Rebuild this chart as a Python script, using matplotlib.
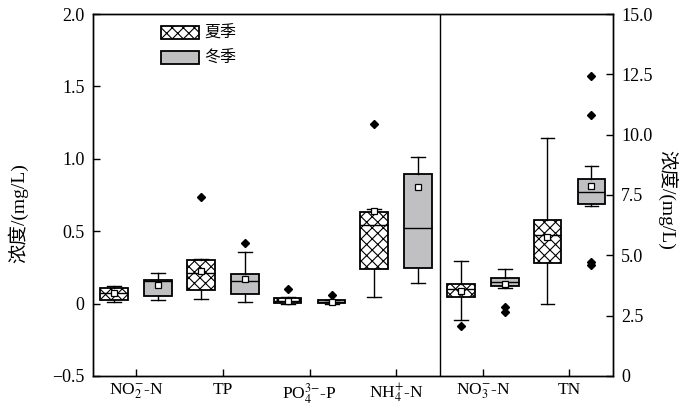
import matplotlib
matplotlib.use('Agg')
import matplotlib.pyplot as plt
from matplotlib.patches import Patch

plt.rcParams['font.family'] = ['Liberation Serif', 'Noto Sans CJK SC']
plt.rcParams['mathtext.fontset'] = 'stix'
plt.rcParams['hatch.linewidth'] = 0.8
plt.rcParams['axes.unicode_minus'] = True

# ---------------- data ----------------
categories = [r'NO$_2^{-}$-N', 'TP', r'PO$_4^{3{-}}$-P', r'NH$_4^{+}$-N', r'NO$_3^{-}$-N', 'TN']
# first four categories on left axis (mg/L), last two on right axis (mg/L)
summer_whislo = [0.011, 0.034, 0.000, 0.048, 2.333, 2.996]
summer_q1     = [0.022, 0.096, 0.001, 0.241, 3.261, 4.695]
summer_med    = [0.070, 0.213, 0.018, 0.541, 3.605, 5.840]
summer_q3     = [0.106, 0.299, 0.039, 0.633, 3.825, 6.452]
summer_whishi = [0.124, 0.310, 0.043, 0.653, 4.765, 9.874]
summer_mean   = [0.072, 0.227, 0.020, 0.640, 3.520, 5.760]
summer_fliers = [[], [0.734], [0.101], [1.240], [2.072], []]

winter_whislo = [0.023, 0.011, 0.000, 0.140, 3.630, 7.040]
winter_q1     = [0.052, 0.064, 0.001, 0.244, 3.729, 7.127]
winter_med    = [0.155, 0.158, 0.013, 0.524, 3.910, 7.612]
winter_q3     = [0.160, 0.204, 0.023, 0.895, 4.074, 8.163]
winter_whishi = [0.213, 0.356, 0.027, 1.010, 4.421, 8.714]
winter_mean   = [0.129, 0.170, 0.012, 0.805, 3.812, 7.861]
winter_fliers = [[], [0.416], [0.059], [], [2.847, 2.652], [12.43, 10.80, 4.736, 4.60]]

season_labels = ['夏季', '冬季']
left_ticks = [-0.5, 0, 0.5, 1.0, 1.5, 2.0]
left_ticklabels = ['\u22120.5', '0', '0.5', '1.0', '1.5', '2.0']
right_ticks = [0, 2.5, 5.0, 7.5, 10.0, 12.5, 15.0]
right_ticklabels = ['0', '2.5', '5.0', '7.5', '10.0', '12.5', '15.0']
ylabel = '浓度/(mg/L)'


def make_stats(idx, wl, q1, med, q3, wh, mean, fl):
    return [dict(whislo=wl[i], q1=q1[i], med=med[i], q3=q3[i], whishi=wh[i],
                 mean=mean[i], fliers=fl[i]) for i in idx]

summer_stats = make_stats(range(6), summer_whislo, summer_q1, summer_med, summer_q3,
                          summer_whishi, summer_mean, summer_fliers)
winter_stats = make_stats(range(6), winter_whislo, winter_q1, winter_med, winter_q3,
                          winter_whishi, winter_mean, winter_fliers)

gray = '#c0c0c2'
fig = plt.figure(figsize=(6.79, 4.07), dpi=100)
ax = fig.add_axes([0.137, 0.0762, 0.7655, 0.8894])
ax2 = ax.twinx()

offset = 0.254
width = 0.32
capw = 0.16

common = dict(patch_artist=True, showmeans=True, widths=width, capwidths=capw,
              manage_ticks=False,
              medianprops=dict(color='black', linewidth=1.0),
              whiskerprops=dict(color='black', linewidth=1.0),
              capprops=dict(color='black', linewidth=1.0),
              flierprops=dict(marker='D', markerfacecolor='black', markeredgecolor='black',
                              markersize=4),
              meanprops=dict(marker='s', markerfacecolor='white', markeredgecolor='black',
                             markersize=4, markeredgewidth=0.9))

summer_box = dict(facecolor='white', edgecolor='black', linewidth=1.3, hatch='xxx')
winter_box = dict(facecolor=gray, edgecolor='black', linewidth=1.3)

left_idx = [0, 1, 2, 3]
right_idx = [4, 5]

ax.bxp([summer_stats[i] for i in left_idx], positions=[i - offset for i in left_idx],
       boxprops=summer_box, **common)
ax.bxp([winter_stats[i] for i in left_idx], positions=[i + offset for i in left_idx],
       boxprops=winter_box, **common)
ax2.bxp([summer_stats[i] for i in right_idx], positions=[i - offset for i in right_idx],
        boxprops=summer_box, **common)
ax2.bxp([winter_stats[i] for i in right_idx], positions=[i + offset for i in right_idx],
        boxprops=winter_box, **common)

ax.set_xlim(-0.5, 5.5)
ax.set_ylim(-0.5, 2.0)
ax2.set_ylim(0, 15)
ax.axvline(3.5, color='black', linewidth=1.0)

ax.set_xticks(range(6))
ax.set_xticklabels(categories)
ax.set_yticks(left_ticks)
ax.set_yticklabels(left_ticklabels)
ax2.set_yticks(right_ticks)
ax2.set_yticklabels(right_ticklabels)

ax.tick_params(axis='both', direction='in', length=5, width=1, labelsize=13, pad=6)
ax.tick_params(axis='x', pad=4, labelsize=12.5)
ax2.tick_params(axis='y', direction='in', length=5, width=1, labelsize=13, pad=6)
for a in (ax, ax2):
    for s in a.spines.values():
        s.set_linewidth(1.0)

ax.set_ylabel(ylabel, fontsize=14, va='center', ha='center')
ax.yaxis.set_label_coords(-0.144, 0.45)
ax2.set_ylabel(ylabel, fontsize=14, rotation=270, va='center', ha='center')
ax2.yaxis.set_label_coords(1.106, 0.486)

handles = [Patch(facecolor='white', edgecolor='black', hatch='xxx', linewidth=1.3),
           Patch(facecolor=gray, edgecolor='black', linewidth=1.3)]
ax2.legend(handles, season_labels, loc='upper left', bbox_to_anchor=(0.131, 0.967),
           frameon=False, fontsize=11.5, handlelength=2.4, handleheight=0.9,
           handletextpad=0.3, labelspacing=0.55, borderpad=0, borderaxespad=0)

fig.savefig('out.png', dpi=100)
